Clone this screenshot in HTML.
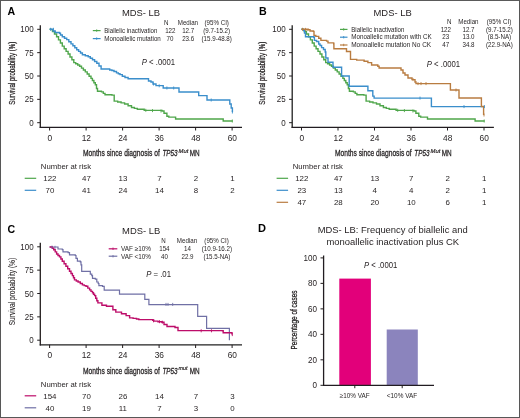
<!DOCTYPE html>
<html><head><meta charset="utf-8"><style>
html,body{margin:0;padding:0;background:#fff;}
body{width:520px;height:418px;overflow:hidden;font-family:"Liberation Sans",sans-serif;}
svg{display:block;}
</style></head><body>
<svg width="520" height="418" viewBox="0 0 520 418" font-family="Liberation Sans, sans-serif">
<defs><filter id="soft" x="0" y="0" width="100%" height="100%" filterUnits="userSpaceOnUse"><feGaussianBlur stdDeviation="0.3"/></filter></defs>
<rect x="0" y="0" width="520" height="418" fill="#fff"/>
<g filter="url(#soft)" fill="#231f20">
<text x="7.60" y="15.20" font-size="10.60" font-weight="bold" fill="#000">A</text>
<text x="121.90" y="15.60" font-size="9.80" textLength="38.2" lengthAdjust="spacingAndGlyphs">MDS- LB</text>
<line x1="40.30" y1="25.30" x2="40.30" y2="127.90" stroke="#231f20" stroke-width="1.3"/>
<line x1="39.70" y1="127.30" x2="242.00" y2="127.30" stroke="#231f20" stroke-width="1.3"/>
<line x1="37.20" y1="29.30" x2="40.30" y2="29.30" stroke="#231f20" stroke-width="1.0"/>
<text x="33.70" y="32.30" font-size="8.50" text-anchor="end" textLength="13.35" lengthAdjust="spacingAndGlyphs">100</text>
<line x1="37.20" y1="52.65" x2="40.30" y2="52.65" stroke="#231f20" stroke-width="1.0"/>
<text x="33.70" y="55.65" font-size="8.50" text-anchor="end" textLength="8.9" lengthAdjust="spacingAndGlyphs">75</text>
<line x1="37.20" y1="76.00" x2="40.30" y2="76.00" stroke="#231f20" stroke-width="1.0"/>
<text x="33.70" y="79.00" font-size="8.50" text-anchor="end" textLength="8.9" lengthAdjust="spacingAndGlyphs">50</text>
<line x1="37.20" y1="99.35" x2="40.30" y2="99.35" stroke="#231f20" stroke-width="1.0"/>
<text x="33.70" y="102.35" font-size="8.50" text-anchor="end" textLength="8.9" lengthAdjust="spacingAndGlyphs">25</text>
<line x1="37.20" y1="122.70" x2="40.30" y2="122.70" stroke="#231f20" stroke-width="1.0"/>
<text x="33.70" y="125.70" font-size="8.50" text-anchor="end" textLength="4.45" lengthAdjust="spacingAndGlyphs">0</text>
<line x1="49.60" y1="127.30" x2="49.60" y2="130.50" stroke="#231f20" stroke-width="1.0"/>
<text x="49.80" y="140.80" font-size="8.60" text-anchor="middle" textLength="4.65" lengthAdjust="spacingAndGlyphs">0</text>
<line x1="86.10" y1="127.30" x2="86.10" y2="130.50" stroke="#231f20" stroke-width="1.0"/>
<text x="86.30" y="140.80" font-size="8.60" text-anchor="middle" textLength="9.3" lengthAdjust="spacingAndGlyphs">12</text>
<line x1="122.60" y1="127.30" x2="122.60" y2="130.50" stroke="#231f20" stroke-width="1.0"/>
<text x="122.80" y="140.80" font-size="8.60" text-anchor="middle" textLength="9.3" lengthAdjust="spacingAndGlyphs">24</text>
<line x1="159.10" y1="127.30" x2="159.10" y2="130.50" stroke="#231f20" stroke-width="1.0"/>
<text x="159.30" y="140.80" font-size="8.60" text-anchor="middle" textLength="9.3" lengthAdjust="spacingAndGlyphs">36</text>
<line x1="195.60" y1="127.30" x2="195.60" y2="130.50" stroke="#231f20" stroke-width="1.0"/>
<text x="195.80" y="140.80" font-size="8.60" text-anchor="middle" textLength="9.3" lengthAdjust="spacingAndGlyphs">48</text>
<line x1="232.10" y1="127.30" x2="232.10" y2="130.50" stroke="#231f20" stroke-width="1.0"/>
<text x="232.30" y="140.80" font-size="8.60" text-anchor="middle" textLength="9.3" lengthAdjust="spacingAndGlyphs">60</text>
<text transform="translate(14.70,73.20) rotate(-90)" x="0" y="0" font-size="9.2" text-anchor="middle" textLength="63" lengthAdjust="spacingAndGlyphs" fill="#231f20" stroke="#231f20" stroke-width="0.25">Survival probability (%)</text>
<text x="83.00" y="156.30" font-size="9.8" textLength="76.8" lengthAdjust="spacingAndGlyphs" fill="#231f20" stroke="#231f20" stroke-width="0.3">Months since diagnosis of</text>
<text x="162.40" y="156.30" font-size="9.8" font-style="italic" textLength="15.2" lengthAdjust="spacingAndGlyphs" fill="#231f20" stroke="#231f20" stroke-width="0.3">TP53</text>
<text x="178.60" y="152.70" font-size="5.8" font-style="italic" stroke="#231f20" stroke-width="0.2" textLength="9.8" lengthAdjust="spacingAndGlyphs" fill="#231f20">Mut</text>
<text x="189.80" y="156.30" font-size="9.8" textLength="9.9" lengthAdjust="spacingAndGlyphs" fill="#231f20" stroke="#231f20" stroke-width="0.3">MN</text>
<text x="40.80" y="169.20" font-size="7.70" textLength="50.3" lengthAdjust="spacingAndGlyphs">Number at risk</text>
<line x1="24.70" y1="178.30" x2="36.20" y2="178.30" stroke="#4fa64b" stroke-width="1.2"/>
<text x="49.90" y="181.20" font-size="7.90" text-anchor="middle">122</text>
<text x="86.40" y="181.20" font-size="7.90" text-anchor="middle">47</text>
<text x="122.90" y="181.20" font-size="7.90" text-anchor="middle">13</text>
<text x="159.40" y="181.20" font-size="7.90" text-anchor="middle">7</text>
<text x="195.90" y="181.20" font-size="7.90" text-anchor="middle">2</text>
<text x="232.40" y="181.20" font-size="7.90" text-anchor="middle">1</text>
<line x1="24.70" y1="190.30" x2="36.20" y2="190.30" stroke="#3a8ecb" stroke-width="1.2"/>
<text x="49.90" y="193.20" font-size="7.90" text-anchor="middle">70</text>
<text x="86.40" y="193.20" font-size="7.90" text-anchor="middle">41</text>
<text x="122.90" y="193.20" font-size="7.90" text-anchor="middle">24</text>
<text x="159.40" y="193.20" font-size="7.90" text-anchor="middle">14</text>
<text x="195.90" y="193.20" font-size="7.90" text-anchor="middle">8</text>
<text x="232.40" y="193.20" font-size="7.90" text-anchor="middle">2</text>
<line x1="92.80" y1="30.60" x2="100.60" y2="30.60" stroke="#4fa64b" stroke-width="1.2"/>
<line x1="92.80" y1="38.60" x2="100.60" y2="38.60" stroke="#3a8ecb" stroke-width="1.2"/>
<path d="M96.70,29.40V31.80" fill="none" stroke="#4fa64b" stroke-width="0.9"/>
<path d="M96.70,37.40V39.80" fill="none" stroke="#3a8ecb" stroke-width="0.9"/>
<text x="104.30" y="32.90" font-size="6.82" textLength="53.0" lengthAdjust="spacingAndGlyphs">Biallelic inactivation</text>
<text x="104.30" y="40.60" font-size="6.82" textLength="56.51" lengthAdjust="spacingAndGlyphs">Monoallelic mutation</text>
<text x="166.30" y="25.40" font-size="6.82" text-anchor="middle" textLength="4.48" lengthAdjust="spacingAndGlyphs">N</text>
<text x="187.90" y="25.40" font-size="6.82" text-anchor="middle" textLength="20.33" lengthAdjust="spacingAndGlyphs">Median</text>
<text x="216.70" y="25.40" font-size="6.82" text-anchor="middle" textLength="24.46" lengthAdjust="spacingAndGlyphs">(95% CI)</text>
<text x="170.30" y="33.00" font-size="6.82" text-anchor="middle" textLength="10.34" lengthAdjust="spacingAndGlyphs">122</text>
<text x="188.20" y="33.00" font-size="6.82" text-anchor="middle" textLength="12.07" lengthAdjust="spacingAndGlyphs">12.7</text>
<text x="216.70" y="33.00" font-size="6.82" text-anchor="middle" textLength="26.88" lengthAdjust="spacingAndGlyphs">(9.7-15.2)</text>
<text x="170.00" y="40.70" font-size="6.82" text-anchor="middle" textLength="6.9" lengthAdjust="spacingAndGlyphs">70</text>
<text x="188.20" y="40.70" font-size="6.82" text-anchor="middle" textLength="12.07" lengthAdjust="spacingAndGlyphs">23.6</text>
<text x="216.70" y="40.70" font-size="6.82" text-anchor="middle" textLength="30.32" lengthAdjust="spacingAndGlyphs">(15.9-48.8)</text>
<text x="141.8" y="65.0" font-size="8.3" textLength="33.3" lengthAdjust="spacingAndGlyphs" fill="#231f20"><tspan font-style="italic">P</tspan> &lt; .0001</text>
<path d="M49.60,29.30H50.90V29.60H52.50V31.50H54.50V34.00H56.60V36.80H58.50V39.90H60.40V43.00H62.30V46.10H64.20V48.70H66.10V51.40H68.10V54.00H70.00V57.00H71.90V59.80H73.80V62.60H75.70V63.80H77.70V65.00H79.60V66.20H81.50V68.10H83.40V70.00H85.30V71.90H87.20V74.00H89.10V76.20H91.00V78.40H92.40V80.50H93.90V82.70H95.30V84.80H96.50V88.50H97.50V91.30H101.50V91.90H103.30V93.40H105.00V94.80H111.90V95.10H114.20V101.10H117.70V102.00H121.10V102.90H124.60V104.00H128.10V105.80H131.50V107.50H134.40V108.40H137.30V109.20H144.20V110.40H162.10V111.00H164.00V113.30H166.90V116.20H168.80V117.10H175.60V119.00H223.20V121.00H232.60V121.00" fill="none" stroke="#4fa64b" stroke-width="1.4" stroke-linejoin="miter"/>
<path d="M49.60,29.30H50.90V29.30H53.00V31.00H55.20V32.50H59.50V33.20H60.50V35.00H62.30V36.80H64.50V38.20H66.70V39.60H68.80V41.70H71.00V43.90H72.90V45.80H74.80V47.80H76.70V49.70H78.60V51.40H80.50V53.00H82.40V54.70H85.30V55.70H88.20V56.80H90.30V58.20H92.50V59.70H94.60V61.50H96.80V63.30H99.00V66.00H101.10V69.00H109.70V70.00H111.90V70.50H114.00V71.50H116.50V72.90H118.30V73.80H120.00V74.60H122.30V76.30H125.00V77.50H128.10V78.70H148.50V81.00H151.00V82.00H153.00V84.00H156.00V85.60H163.20V88.00H179.00V92.00H198.70V95.60H207.00V100.00H229.80V104.00H231.20V108.00H232.40V112.00" fill="none" stroke="#3a8ecb" stroke-width="1.4" stroke-linejoin="miter"/>
<path d="M50.60,27.80V30.80M53.40,27.80V30.80M153.50,82.50V85.50M159.20,84.30V87.30M166.90,86.50V89.50M173.70,86.50V89.50M211.20,98.50V101.50M232.40,110.50V113.50" fill="none" stroke="#3a8ecb" stroke-width="0.9"/>
<path d="M145.80,108.80V111.80M152.50,109.10V112.10M161.00,109.50V112.50M232.30,119.50V122.50" fill="none" stroke="#4fa64b" stroke-width="0.9"/>
<text x="259.00" y="15.30" font-size="10.60" textLength="7.7" lengthAdjust="spacingAndGlyphs" font-weight="bold" fill="#000">B</text>
<text x="373.50" y="15.60" font-size="9.80" textLength="38.2" lengthAdjust="spacingAndGlyphs">MDS- LB</text>
<line x1="292.20" y1="25.30" x2="292.20" y2="127.90" stroke="#231f20" stroke-width="1.3"/>
<line x1="291.60" y1="127.30" x2="493.90" y2="127.30" stroke="#231f20" stroke-width="1.3"/>
<line x1="289.10" y1="29.30" x2="292.20" y2="29.30" stroke="#231f20" stroke-width="1.0"/>
<text x="285.60" y="32.30" font-size="8.50" text-anchor="end" textLength="13.35" lengthAdjust="spacingAndGlyphs">100</text>
<line x1="289.10" y1="52.65" x2="292.20" y2="52.65" stroke="#231f20" stroke-width="1.0"/>
<text x="285.60" y="55.65" font-size="8.50" text-anchor="end" textLength="8.9" lengthAdjust="spacingAndGlyphs">75</text>
<line x1="289.10" y1="76.00" x2="292.20" y2="76.00" stroke="#231f20" stroke-width="1.0"/>
<text x="285.60" y="79.00" font-size="8.50" text-anchor="end" textLength="8.9" lengthAdjust="spacingAndGlyphs">50</text>
<line x1="289.10" y1="99.35" x2="292.20" y2="99.35" stroke="#231f20" stroke-width="1.0"/>
<text x="285.60" y="102.35" font-size="8.50" text-anchor="end" textLength="8.9" lengthAdjust="spacingAndGlyphs">25</text>
<line x1="289.10" y1="122.70" x2="292.20" y2="122.70" stroke="#231f20" stroke-width="1.0"/>
<text x="285.60" y="125.70" font-size="8.50" text-anchor="end" textLength="4.45" lengthAdjust="spacingAndGlyphs">0</text>
<line x1="301.50" y1="127.30" x2="301.50" y2="130.50" stroke="#231f20" stroke-width="1.0"/>
<text x="301.70" y="140.80" font-size="8.60" text-anchor="middle" textLength="4.65" lengthAdjust="spacingAndGlyphs">0</text>
<line x1="338.00" y1="127.30" x2="338.00" y2="130.50" stroke="#231f20" stroke-width="1.0"/>
<text x="338.20" y="140.80" font-size="8.60" text-anchor="middle" textLength="9.3" lengthAdjust="spacingAndGlyphs">12</text>
<line x1="374.50" y1="127.30" x2="374.50" y2="130.50" stroke="#231f20" stroke-width="1.0"/>
<text x="374.70" y="140.80" font-size="8.60" text-anchor="middle" textLength="9.3" lengthAdjust="spacingAndGlyphs">24</text>
<line x1="411.00" y1="127.30" x2="411.00" y2="130.50" stroke="#231f20" stroke-width="1.0"/>
<text x="411.20" y="140.80" font-size="8.60" text-anchor="middle" textLength="9.3" lengthAdjust="spacingAndGlyphs">36</text>
<line x1="447.50" y1="127.30" x2="447.50" y2="130.50" stroke="#231f20" stroke-width="1.0"/>
<text x="447.70" y="140.80" font-size="8.60" text-anchor="middle" textLength="9.3" lengthAdjust="spacingAndGlyphs">48</text>
<line x1="484.00" y1="127.30" x2="484.00" y2="130.50" stroke="#231f20" stroke-width="1.0"/>
<text x="484.20" y="140.80" font-size="8.60" text-anchor="middle" textLength="9.3" lengthAdjust="spacingAndGlyphs">60</text>
<text transform="translate(264.60,73.20) rotate(-90)" x="0" y="0" font-size="9.2" text-anchor="middle" textLength="63" lengthAdjust="spacingAndGlyphs" fill="#231f20" stroke="#231f20" stroke-width="0.25">Survival probability (%)</text>
<text x="334.90" y="156.30" font-size="9.8" textLength="76.8" lengthAdjust="spacingAndGlyphs" fill="#231f20" stroke="#231f20" stroke-width="0.3">Months since diagnosis of</text>
<text x="414.30" y="156.30" font-size="9.8" font-style="italic" textLength="15.2" lengthAdjust="spacingAndGlyphs" fill="#231f20" stroke="#231f20" stroke-width="0.3">TP53</text>
<text x="430.50" y="152.70" font-size="5.8" font-style="italic" stroke="#231f20" stroke-width="0.2" textLength="9.8" lengthAdjust="spacingAndGlyphs" fill="#231f20">Mut</text>
<text x="441.70" y="156.30" font-size="9.8" textLength="9.9" lengthAdjust="spacingAndGlyphs" fill="#231f20" stroke="#231f20" stroke-width="0.3">MN</text>
<text x="292.70" y="169.20" font-size="7.70" textLength="50.3" lengthAdjust="spacingAndGlyphs">Number at risk</text>
<line x1="276.60" y1="178.30" x2="288.10" y2="178.30" stroke="#4fa64b" stroke-width="1.2"/>
<text x="301.80" y="181.20" font-size="7.90" text-anchor="middle">122</text>
<text x="338.30" y="181.20" font-size="7.90" text-anchor="middle">47</text>
<text x="374.80" y="181.20" font-size="7.90" text-anchor="middle">13</text>
<text x="411.30" y="181.20" font-size="7.90" text-anchor="middle">7</text>
<text x="447.80" y="181.20" font-size="7.90" text-anchor="middle">2</text>
<text x="484.30" y="181.20" font-size="7.90" text-anchor="middle">1</text>
<line x1="276.60" y1="190.30" x2="288.10" y2="190.30" stroke="#3a8ecb" stroke-width="1.2"/>
<text x="301.80" y="193.20" font-size="7.90" text-anchor="middle">23</text>
<text x="338.30" y="193.20" font-size="7.90" text-anchor="middle">13</text>
<text x="374.80" y="193.20" font-size="7.90" text-anchor="middle">4</text>
<text x="411.30" y="193.20" font-size="7.90" text-anchor="middle">4</text>
<text x="447.80" y="193.20" font-size="7.90" text-anchor="middle">2</text>
<text x="484.30" y="193.20" font-size="7.90" text-anchor="middle">1</text>
<line x1="276.60" y1="202.30" x2="288.10" y2="202.30" stroke="#b97c40" stroke-width="1.2"/>
<text x="301.80" y="205.20" font-size="7.90" text-anchor="middle">47</text>
<text x="338.30" y="205.20" font-size="7.90" text-anchor="middle">28</text>
<text x="374.80" y="205.20" font-size="7.90" text-anchor="middle">20</text>
<text x="411.30" y="205.20" font-size="7.90" text-anchor="middle">10</text>
<text x="447.80" y="205.20" font-size="7.90" text-anchor="middle">6</text>
<text x="484.30" y="205.20" font-size="7.90" text-anchor="middle">1</text>
<line x1="340.00" y1="29.40" x2="347.50" y2="29.40" stroke="#4fa64b" stroke-width="1.2"/>
<line x1="340.00" y1="37.20" x2="347.50" y2="37.20" stroke="#3a8ecb" stroke-width="1.2"/>
<line x1="340.00" y1="45.00" x2="347.50" y2="45.00" stroke="#b97c40" stroke-width="1.2"/>
<path d="M343.70,28.20V30.60" fill="none" stroke="#4fa64b" stroke-width="0.9"/>
<path d="M343.70,36.00V38.40" fill="none" stroke="#3a8ecb" stroke-width="0.9"/>
<path d="M343.70,43.80V46.20" fill="none" stroke="#b97c40" stroke-width="0.9"/>
<text x="351.20" y="31.60" font-size="6.82" textLength="53.2" lengthAdjust="spacingAndGlyphs">Biallelic inactivation</text>
<text x="351.20" y="39.40" font-size="6.82" textLength="80.5" lengthAdjust="spacingAndGlyphs">Monoallelic mutation with CK</text>
<text x="351.20" y="47.20" font-size="6.82" textLength="80.0" lengthAdjust="spacingAndGlyphs">Monoallelic mutation No CK</text>
<text x="449.20" y="23.80" font-size="6.82" text-anchor="middle" textLength="4.48" lengthAdjust="spacingAndGlyphs">N</text>
<text x="468.40" y="23.80" font-size="6.82" text-anchor="middle" textLength="20.33" lengthAdjust="spacingAndGlyphs">Median</text>
<text x="499.00" y="23.80" font-size="6.82" text-anchor="middle" textLength="24.46" lengthAdjust="spacingAndGlyphs">(95% CI)</text>
<text x="445.80" y="31.60" font-size="6.82" text-anchor="middle" textLength="10.34" lengthAdjust="spacingAndGlyphs">122</text>
<text x="468.50" y="31.60" font-size="6.82" text-anchor="middle" textLength="12.07" lengthAdjust="spacingAndGlyphs">12.7</text>
<text x="499.40" y="31.60" font-size="6.82" text-anchor="middle" textLength="26.88" lengthAdjust="spacingAndGlyphs">(9.7-15.2)</text>
<text x="445.80" y="39.35" font-size="6.82" text-anchor="middle" textLength="6.9" lengthAdjust="spacingAndGlyphs">23</text>
<text x="468.50" y="39.35" font-size="6.82" text-anchor="middle" textLength="12.07" lengthAdjust="spacingAndGlyphs">13.0</text>
<text x="499.40" y="39.35" font-size="6.82" text-anchor="middle" textLength="23.42" lengthAdjust="spacingAndGlyphs">(8.5-NA)</text>
<text x="445.80" y="47.10" font-size="6.82" text-anchor="middle" textLength="6.9" lengthAdjust="spacingAndGlyphs">47</text>
<text x="468.50" y="47.10" font-size="6.82" text-anchor="middle" textLength="12.07" lengthAdjust="spacingAndGlyphs">34.8</text>
<text x="499.40" y="47.10" font-size="6.82" text-anchor="middle" textLength="26.87" lengthAdjust="spacingAndGlyphs">(22.9-NA)</text>
<text x="426.8" y="66.5" font-size="8.3" textLength="33.3" lengthAdjust="spacingAndGlyphs" fill="#231f20"><tspan font-style="italic">P</tspan> &lt; .0001</text>
<path d="M301.50,29.30H302.80V29.60H304.40V31.50H306.40V34.00H308.50V36.80H310.40V39.90H312.30V43.00H314.20V46.10H316.10V48.70H318.00V51.40H320.00V54.00H321.90V57.00H323.80V59.80H325.70V62.60H327.60V63.80H329.60V65.00H331.50V66.20H333.40V68.10H335.30V70.00H337.20V71.90H339.10V74.00H341.00V76.20H342.90V78.40H344.30V80.50H345.80V82.70H347.20V84.80H348.40V88.50H349.40V91.30H353.40V91.90H355.20V93.40H356.90V94.80H363.80V95.10H366.10V101.10H369.60V102.00H373.00V102.90H376.50V104.00H380.00V105.80H383.40V107.50H386.30V108.40H389.20V109.20H396.10V110.40H414.00V111.00H415.90V113.30H418.80V116.20H420.70V117.10H427.50V119.00H475.10V121.00H484.50V121.00" fill="none" stroke="#4fa64b" stroke-width="1.4" stroke-linejoin="miter"/>
<path d="M301.50,29.30H303.50V30.50H304.50V33.00H305.50V36.80H313.80V37.20H314.40V40.40H316.50V41.50H318.70V44.00H320.00V45.50H321.60V47.60H323.50V49.50H325.20V52.00H325.80V58.00H328.00V62.30H333.00V67.30H341.60V76.00H349.20V86.20H367.90V90.70H372.80V96.10H374.10V98.10H431.40V106.60H484.40V106.60" fill="none" stroke="#3a8ecb" stroke-width="1.4" stroke-linejoin="miter"/>
<path d="M301.50,29.30H306.50V29.60H310.00V31.00H313.30V31.40H314.00V35.40H315.80V36.40H318.70V38.20H320.90V40.40H326.60V41.10H328.00V42.90H333.70V43.70H333.90V48.70H346.00V48.70H346.50V51.50H349.50V51.50H350.50V59.40H356.70V60.10H364.10V61.30H367.90V62.60H371.60V65.00H377.80V66.30H379.10V68.00H400.00V68.00H401.00V70.00H403.00V73.00H405.00V75.00H408.00V78.00H412.00V79.60H415.00V82.00H416.00V83.60H450.40V90.00H459.00V98.00H481.40V106.50H483.60V115.00" fill="none" stroke="#b97c40" stroke-width="1.4" stroke-linejoin="miter"/>
<path d="M397.70,108.80V111.80M404.40,109.10V112.10M412.90,109.50V112.50M484.20,119.50V122.50" fill="none" stroke="#4fa64b" stroke-width="0.9"/>
<path d="M302.50,27.80V30.80M305.50,27.90V30.90M308.00,28.00V31.00M413.00,78.10V81.10M418.00,82.10V85.10M421.00,82.10V85.10M426.00,82.10V85.10M456.00,88.50V91.50M484.00,113.50V116.50" fill="none" stroke="#b97c40" stroke-width="0.9"/>
<path d="M420.00,96.60V99.60M464.00,105.10V108.10M484.40,105.10V108.10" fill="none" stroke="#3a8ecb" stroke-width="0.9"/>
<text x="7.60" y="232.70" font-size="10.60" font-weight="bold" fill="#000">C</text>
<text x="122.10" y="233.80" font-size="9.80" textLength="38.2" lengthAdjust="spacingAndGlyphs">MDS- LB</text>
<line x1="40.30" y1="242.80" x2="40.30" y2="345.40" stroke="#231f20" stroke-width="1.3"/>
<line x1="39.70" y1="344.80" x2="242.00" y2="344.80" stroke="#231f20" stroke-width="1.3"/>
<line x1="37.20" y1="246.80" x2="40.30" y2="246.80" stroke="#231f20" stroke-width="1.0"/>
<text x="33.70" y="249.80" font-size="8.50" text-anchor="end" textLength="13.35" lengthAdjust="spacingAndGlyphs">100</text>
<line x1="37.20" y1="270.15" x2="40.30" y2="270.15" stroke="#231f20" stroke-width="1.0"/>
<text x="33.70" y="273.15" font-size="8.50" text-anchor="end" textLength="8.9" lengthAdjust="spacingAndGlyphs">75</text>
<line x1="37.20" y1="293.50" x2="40.30" y2="293.50" stroke="#231f20" stroke-width="1.0"/>
<text x="33.70" y="296.50" font-size="8.50" text-anchor="end" textLength="8.9" lengthAdjust="spacingAndGlyphs">50</text>
<line x1="37.20" y1="316.85" x2="40.30" y2="316.85" stroke="#231f20" stroke-width="1.0"/>
<text x="33.70" y="319.85" font-size="8.50" text-anchor="end" textLength="8.9" lengthAdjust="spacingAndGlyphs">25</text>
<line x1="37.20" y1="340.20" x2="40.30" y2="340.20" stroke="#231f20" stroke-width="1.0"/>
<text x="33.70" y="343.20" font-size="8.50" text-anchor="end" textLength="4.45" lengthAdjust="spacingAndGlyphs">0</text>
<line x1="49.60" y1="344.80" x2="49.60" y2="348.00" stroke="#231f20" stroke-width="1.0"/>
<text x="49.80" y="358.30" font-size="8.60" text-anchor="middle" textLength="4.65" lengthAdjust="spacingAndGlyphs">0</text>
<line x1="86.10" y1="344.80" x2="86.10" y2="348.00" stroke="#231f20" stroke-width="1.0"/>
<text x="86.30" y="358.30" font-size="8.60" text-anchor="middle" textLength="9.3" lengthAdjust="spacingAndGlyphs">12</text>
<line x1="122.60" y1="344.80" x2="122.60" y2="348.00" stroke="#231f20" stroke-width="1.0"/>
<text x="122.80" y="358.30" font-size="8.60" text-anchor="middle" textLength="9.3" lengthAdjust="spacingAndGlyphs">24</text>
<line x1="159.10" y1="344.80" x2="159.10" y2="348.00" stroke="#231f20" stroke-width="1.0"/>
<text x="159.30" y="358.30" font-size="8.60" text-anchor="middle" textLength="9.3" lengthAdjust="spacingAndGlyphs">36</text>
<line x1="195.60" y1="344.80" x2="195.60" y2="348.00" stroke="#231f20" stroke-width="1.0"/>
<text x="195.80" y="358.30" font-size="8.60" text-anchor="middle" textLength="9.3" lengthAdjust="spacingAndGlyphs">48</text>
<line x1="232.10" y1="344.80" x2="232.10" y2="348.00" stroke="#231f20" stroke-width="1.0"/>
<text x="232.30" y="358.30" font-size="8.60" text-anchor="middle" textLength="9.3" lengthAdjust="spacingAndGlyphs">60</text>
<text transform="translate(14.50,291.60) rotate(-90)" x="0" y="0" font-size="9.2" text-anchor="middle" textLength="67.5" lengthAdjust="spacingAndGlyphs" fill="#231f20" stroke="#231f20" stroke-width="0.1">Survival probability (%)</text>
<text x="83.00" y="373.80" font-size="9.8" textLength="76.8" lengthAdjust="spacingAndGlyphs" fill="#231f20" stroke="#231f20" stroke-width="0.3">Months since diagnosis of</text>
<text x="162.40" y="373.80" font-size="9.8" font-style="italic" textLength="15.2" lengthAdjust="spacingAndGlyphs" fill="#231f20" stroke="#231f20" stroke-width="0.3">TP53</text>
<text x="178.60" y="370.20" font-size="5.8" font-style="italic" stroke="#231f20" stroke-width="0.2" textLength="9.0" lengthAdjust="spacingAndGlyphs" fill="#231f20">mut</text>
<text x="189.80" y="373.80" font-size="9.8" textLength="9.9" lengthAdjust="spacingAndGlyphs" fill="#231f20" stroke="#231f20" stroke-width="0.3">MN</text>
<text x="40.80" y="386.70" font-size="7.70" textLength="50.3" lengthAdjust="spacingAndGlyphs">Number at risk</text>
<line x1="24.70" y1="395.80" x2="36.20" y2="395.80" stroke="#bd0d69" stroke-width="1.2"/>
<text x="49.90" y="398.70" font-size="7.90" text-anchor="middle">154</text>
<text x="86.40" y="398.70" font-size="7.90" text-anchor="middle">70</text>
<text x="122.90" y="398.70" font-size="7.90" text-anchor="middle">26</text>
<text x="159.40" y="398.70" font-size="7.90" text-anchor="middle">14</text>
<text x="195.90" y="398.70" font-size="7.90" text-anchor="middle">7</text>
<text x="232.40" y="398.70" font-size="7.90" text-anchor="middle">3</text>
<line x1="24.70" y1="407.80" x2="36.20" y2="407.80" stroke="#6f6fa5" stroke-width="1.2"/>
<text x="49.90" y="410.70" font-size="7.90" text-anchor="middle">40</text>
<text x="86.40" y="410.70" font-size="7.90" text-anchor="middle">19</text>
<text x="122.90" y="410.70" font-size="7.90" text-anchor="middle">11</text>
<text x="159.40" y="410.70" font-size="7.90" text-anchor="middle">7</text>
<text x="195.90" y="410.70" font-size="7.90" text-anchor="middle">3</text>
<text x="232.40" y="410.70" font-size="7.90" text-anchor="middle">0</text>
<line x1="108.70" y1="248.80" x2="117.30" y2="248.80" stroke="#bd0d69" stroke-width="1.2"/>
<line x1="108.70" y1="256.20" x2="117.30" y2="256.20" stroke="#6f6fa5" stroke-width="1.2"/>
<path d="M113.00,247.60V250.00" fill="none" stroke="#bd0d69" stroke-width="0.9"/>
<path d="M113.00,255.00V257.40" fill="none" stroke="#6f6fa5" stroke-width="0.9"/>
<text x="121.00" y="251.00" font-size="6.82" textLength="30.0" lengthAdjust="spacingAndGlyphs">VAF ≥10%</text>
<text x="121.00" y="258.70" font-size="6.82" textLength="30.0" lengthAdjust="spacingAndGlyphs">VAF &lt;10%</text>
<text x="163.60" y="243.00" font-size="6.82" text-anchor="middle" textLength="4.48" lengthAdjust="spacingAndGlyphs">N</text>
<text x="187.00" y="243.00" font-size="6.82" text-anchor="middle" textLength="20.33" lengthAdjust="spacingAndGlyphs">Median</text>
<text x="216.60" y="243.00" font-size="6.82" text-anchor="middle" textLength="24.46" lengthAdjust="spacingAndGlyphs">(95% CI)</text>
<text x="164.40" y="251.00" font-size="6.82" text-anchor="middle" textLength="10.34" lengthAdjust="spacingAndGlyphs">154</text>
<text x="187.40" y="251.00" font-size="6.82" text-anchor="middle" textLength="6.9" lengthAdjust="spacingAndGlyphs">14</text>
<text x="216.90" y="251.00" font-size="6.82" text-anchor="middle" textLength="30.32" lengthAdjust="spacingAndGlyphs">(10.9-16.2)</text>
<text x="164.50" y="258.70" font-size="6.82" text-anchor="middle" textLength="6.9" lengthAdjust="spacingAndGlyphs">40</text>
<text x="187.50" y="258.70" font-size="6.82" text-anchor="middle" textLength="12.07" lengthAdjust="spacingAndGlyphs">22.9</text>
<text x="217.00" y="258.70" font-size="6.82" text-anchor="middle" textLength="26.87" lengthAdjust="spacingAndGlyphs">(15.5-NA)</text>
<text x="146.2" y="276.6" font-size="8.3" textLength="24.8" lengthAdjust="spacingAndGlyphs" fill="#231f20"><tspan font-style="italic">P</tspan> = .01</text>
<path d="M49.60,247.00H57.30V247.00H58.00V249.00H62.30V249.70H63.00V251.90H68.10V252.60H69.50V254.80H75.30V255.50H76.00V258.30H77.40V261.20H80.30V261.90H81.00V264.80H81.70V271.30H89.60V271.30H90.30V274.10H91.80V275.60H92.50V278.40H95.30V279.20H96.80V282.00H98.20V283.50H98.90V285.60H102.50V286.30H104.20V290.20H119.50V294.20H144.80V299.40H148.90V304.60H197.70V304.60H197.70V316.40H206.60V316.40H206.60V328.40H229.40V328.40H229.40V340.30" fill="none" stroke="#6f6fa5" stroke-width="1.2" stroke-linejoin="miter"/>
<path d="M49.60,247.00H50.90V247.00H52.30V248.30H53.70V249.70H55.20V251.90H56.60V254.00H58.00V255.50H59.50V256.90H60.90V259.00H62.30V261.20H64.10V263.70H65.90V266.20H67.70V268.80H69.50V271.30H71.00V273.50H72.40V275.60H73.50V277.80H74.50V279.90H76.30V281.00H78.10V282.00H80.30V283.50H82.40V284.90H84.20V285.60H86.00V286.30H87.80V288.10H89.60V289.90H91.00V291.40H92.50V292.80H93.50V294.20H94.60V295.60H95.70V298.20H96.80V300.70H97.90V302.90H101.90V305.20H106.50V306.30H112.20V306.30H112.90V309.80H115.80V312.10H121.50V313.80H126.10V315.60H129.60V317.90H133.10V318.40H136.50V319.00H138.80V319.60H152.70V320.20H153.80V321.10H158.00V321.70H162.00V322.20H164.00V324.50H167.00V326.50H175.00V327.50H178.00V330.60H222.50V330.80H223.20V332.80H230.50V332.80H232.00V334.60" fill="none" stroke="#bd0d69" stroke-width="1.4" stroke-linejoin="miter"/>
<path d="M166.00,302.90V305.90M168.00,302.90V305.90M172.70,302.90V305.90M52.00,245.60V248.60M55.00,245.80V248.80" fill="none" stroke="#6f6fa5" stroke-width="0.9"/>
<path d="M153.50,319.30V322.30M159.50,320.20V323.20M162.30,320.70V323.70M201.20,329.30V332.30M211.50,329.30V332.30M232.30,333.10V336.10" fill="none" stroke="#bd0d69" stroke-width="0.9"/>
<text x="258.10" y="232.30" font-size="10.60" textLength="8.0" lengthAdjust="spacingAndGlyphs" font-weight="bold" fill="#000">D</text>
<text x="392.70" y="233.10" font-size="9.40" text-anchor="middle" textLength="150.0" lengthAdjust="spacingAndGlyphs">MDS- LB: Frequency of biallelic and</text>
<text x="392.80" y="244.60" font-size="9.40" text-anchor="middle" textLength="132.6" lengthAdjust="spacingAndGlyphs">monoallelic inactivation plus CK</text>
<rect x="339.3" y="278.6" width="31.6" height="106.7" fill="#e2007a"/>
<rect x="386.7" y="329.5" width="31.1" height="55.8" fill="#8b84bd"/>
<line x1="323.60" y1="255.50" x2="323.60" y2="386.00" stroke="#231f20" stroke-width="1.3"/>
<line x1="323.00" y1="385.40" x2="434.00" y2="385.40" stroke="#231f20" stroke-width="1.3"/>
<line x1="320.50" y1="257.90" x2="323.60" y2="257.90" stroke="#231f20" stroke-width="1.0"/>
<text x="317.10" y="260.80" font-size="8.20" text-anchor="end" textLength="13.5" lengthAdjust="spacingAndGlyphs">100</text>
<line x1="320.50" y1="283.38" x2="323.60" y2="283.38" stroke="#231f20" stroke-width="1.0"/>
<text x="317.10" y="286.28" font-size="8.20" text-anchor="end" textLength="9.0" lengthAdjust="spacingAndGlyphs">80</text>
<line x1="320.50" y1="308.86" x2="323.60" y2="308.86" stroke="#231f20" stroke-width="1.0"/>
<text x="317.10" y="311.76" font-size="8.20" text-anchor="end" textLength="9.0" lengthAdjust="spacingAndGlyphs">60</text>
<line x1="320.50" y1="334.34" x2="323.60" y2="334.34" stroke="#231f20" stroke-width="1.0"/>
<text x="317.10" y="337.24" font-size="8.20" text-anchor="end" textLength="9.0" lengthAdjust="spacingAndGlyphs">40</text>
<line x1="320.50" y1="359.82" x2="323.60" y2="359.82" stroke="#231f20" stroke-width="1.0"/>
<text x="317.10" y="362.72" font-size="8.20" text-anchor="end" textLength="9.0" lengthAdjust="spacingAndGlyphs">20</text>
<line x1="320.50" y1="385.30" x2="323.60" y2="385.30" stroke="#231f20" stroke-width="1.0"/>
<text x="317.10" y="388.20" font-size="8.20" text-anchor="end" textLength="4.5" lengthAdjust="spacingAndGlyphs">0</text>
<line x1="354.80" y1="385.40" x2="354.80" y2="388.20" stroke="#231f20" stroke-width="1.0"/>
<line x1="402.20" y1="385.40" x2="402.20" y2="388.20" stroke="#231f20" stroke-width="1.0"/>
<text x="354.70" y="397.90" font-size="7.00" text-anchor="middle" textLength="29.8" lengthAdjust="spacingAndGlyphs">≥10% VAF</text>
<text x="402.00" y="397.90" font-size="7.00" text-anchor="middle" textLength="30.4" lengthAdjust="spacingAndGlyphs">&lt;10% VAF</text>
<text x="364.0" y="267.9" font-size="8.3" textLength="33.3" lengthAdjust="spacingAndGlyphs" fill="#231f20"><tspan font-style="italic">P</tspan> &lt; .0001</text>
<text transform="translate(297.1,320.0) rotate(-90)" x="0" y="0" font-size="9.8" text-anchor="middle" textLength="59" lengthAdjust="spacingAndGlyphs" fill="#231f20" stroke="#231f20" stroke-width="0.3">Percentage of cases</text>
</g>
<rect x="0" y="0" width="520" height="1" fill="#5a5a5a"/><rect x="0" y="417" width="520" height="1" fill="#575757"/><rect x="0" y="0" width="1" height="418" fill="#575757"/><rect x="519" y="0" width="1" height="418" fill="#575757"/>
</svg>
</body></html>
